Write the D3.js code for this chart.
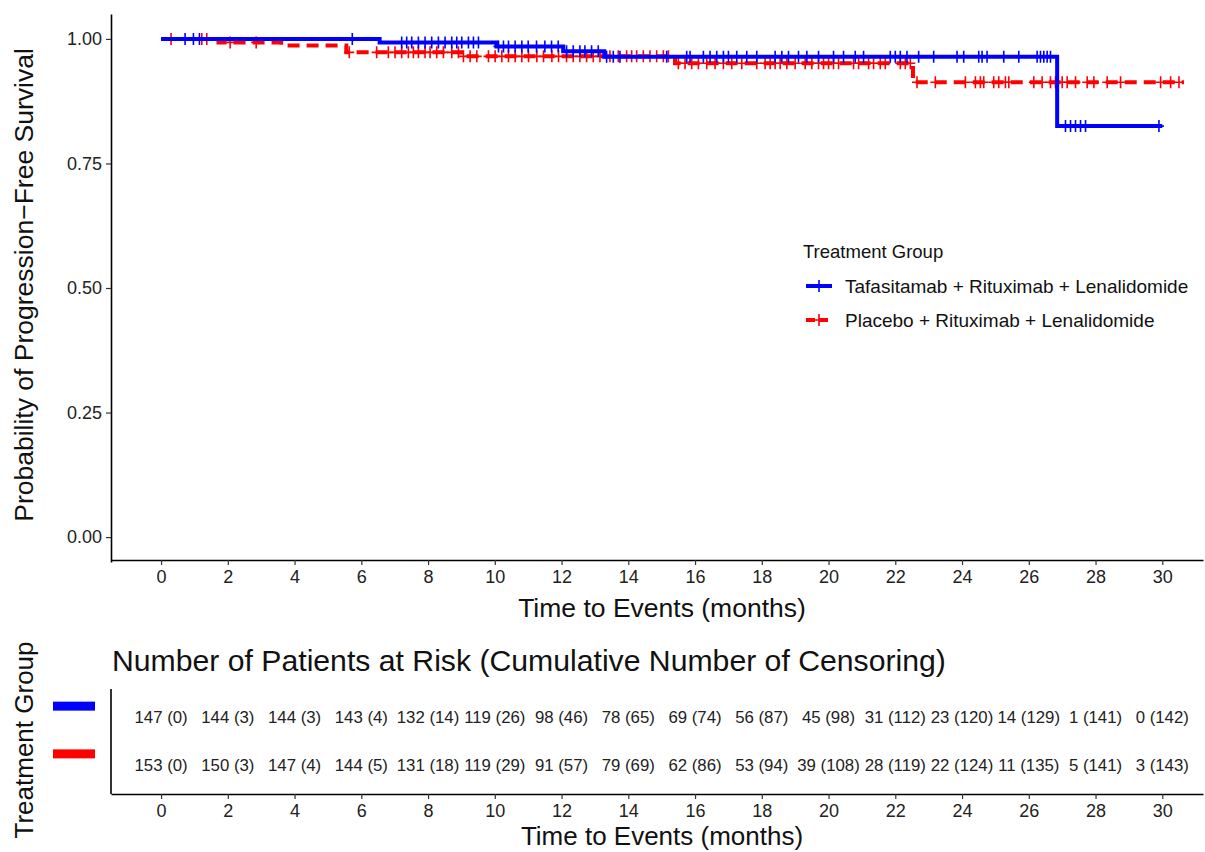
<!DOCTYPE html>
<html>
<head>
<meta charset="utf-8">
<script src="https://cdn.jsdelivr.net/npm/d3@7/dist/d3.min.js"></script>
<style>
  html, body { margin: 0; padding: 0; background: #fff; }
  svg { display: block; font-family: "Liberation Sans", Arial, sans-serif; }
</style>
</head>
<body>
<svg id="chart" width="1205" height="852"></svg>
<script>
// ---- Kaplan-Meier step estimates (time in months, survival after the step) ----
const tafaStepTimes = [0, 6.55, 10.05, 12.05, 13.28, 26.85];
const tafaSurvival  = [1.0, 0.993, 0.985, 0.975, 0.964, 0.825];
const tafaLastTime  = 30.0;
const tafaCensorTimes = [
  0.72, 0.97, 1.15, 5.73,
  7.21, 7.36, 7.51, 7.71, 7.91, 8.11, 8.31, 8.51, 8.71, 8.86, 9.01, 9.21, 9.36, 9.51,
  10.11, 10.26, 10.41, 10.61, 10.81, 11.0, 11.25, 11.5, 11.7, 11.9,
  12.15, 12.35, 12.55, 12.7, 12.9, 13.1, 13.35, 13.55, 13.75,
  15.15, 15.75, 15.85, 16.25, 16.45, 16.65, 16.85, 17.0, 17.25, 17.55, 17.85,
  18.4, 18.6, 18.8, 19.1, 19.35, 19.7, 20.15, 20.45, 20.8, 21.05,
  21.85, 22.0, 22.15, 22.35, 22.7, 23.15, 23.85, 24.05, 24.5, 24.6, 24.75,
  25.25, 25.7, 26.25, 26.35, 26.45, 26.55, 26.65,
  27.1, 27.25, 27.4, 27.55, 27.7, 29.9
];

const pboStepTimes = [0, 1.72, 3.6, 5.55, 9.0, 15.4, 22.53];
const pboSurvival  = [1.0, 0.993, 0.987, 0.973, 0.965, 0.951, 0.913];
const pboLastTime  = 30.65;
const pboCensorTimes = [
  0.3, 1.22, 1.37, 2.07, 2.85, 5.64,
  6.46, 6.81, 7.01, 7.21, 7.41, 7.56, 7.71, 7.91, 8.06, 8.26, 8.46, 8.71, 8.91,
  9.06, 9.26, 9.46, 9.81, 10.01, 10.21, 10.41, 10.61, 10.81, 11.01, 11.26, 11.46, 11.71, 11.91,
  12.15, 12.35, 12.55, 12.75, 12.95, 13.15, 13.45, 13.7, 13.95, 14.1, 14.25, 14.45, 14.65, 14.85,
  15.05, 15.2, 15.5, 15.7, 15.9, 16.1, 16.35, 16.6, 16.85, 17.1, 17.4, 17.85, 18.1,
  18.25, 18.4, 18.55, 18.75, 19.0, 19.3, 19.5, 19.7, 19.85, 20.0, 20.15, 20.3, 20.75, 20.9,
  21.2, 21.35, 21.55, 21.7, 22.15, 22.3, 22.45, 22.65, 23.2, 24.1,
  24.4, 24.55, 24.65, 24.95, 25.1, 25.3, 25.4, 26.15, 26.4, 26.65, 26.8, 27.0, 27.15,
  27.4, 27.75, 27.95, 28.35, 28.75, 29.95, 30.25, 30.5
];

// ---- Risk table ----
const riskTimes   = d3.range(0, 31, 2);
const tafaAtRisk  = [147, 144, 144, 143, 132, 119, 98, 78, 69, 56, 45, 31, 23, 14, 1, 0];
const tafaCensCum = [0, 3, 3, 4, 14, 26, 46, 65, 74, 87, 98, 112, 120, 129, 141, 142];
const pboAtRisk   = [153, 150, 147, 144, 131, 119, 91, 79, 62, 53, 39, 28, 22, 11, 5, 3];
const pboCensCum  = [0, 3, 4, 5, 18, 29, 57, 69, 86, 94, 108, 119, 124, 135, 141, 143];

const groupNames  = ["Tafasitamab + Rituximab + Lenalidomide", "Placebo + Rituximab + Lenalidomide"];
const groupColors = ["#0000FF", "#FF0000"];
const yTicks = [0, 0.25, 0.5, 0.75, 1.0];

const svg = d3.select("#chart");

// ---- Scales ----
const x = d3.scaleLinear().domain([-1.5, 31.22]).range([111, 1203]);
const y = d3.scaleLinear().domain([-0.05, 1.05]).range([562, 14]);

const groups = [
  { name: groupNames[0], color: groupColors[0], times: tafaStepTimes, surv: tafaSurvival, last: tafaLastTime, cens: tafaCensorTimes, dash: null },
  { name: groupNames[1], color: groupColors[1], times: pboStepTimes, surv: pboSurvival, last: pboLastTime, cens: pboCensorTimes, dash: "12,7" }
];

function survAt(g, t) {
  let s = g.surv[0];
  for (let i = 0; i < g.times.length; i++) if (g.times[i] <= t) s = g.surv[i];
  return s;
}

// ---- Axes of the survival panel ----
const xAxis = d3.axisBottom(x).tickValues(riskTimes).tickSize(5).tickSizeOuter(0).tickPadding(5);
const yAxis = d3.axisLeft(y).tickValues(yTicks).tickFormat(d3.format(".2f")).tickSize(5).tickSizeOuter(0).tickPadding(4);

function styleAxis(sel) {
  sel.select(".domain").attr("stroke", "#000").attr("stroke-width", 1.6);
  sel.selectAll(".tick line").attr("stroke", "#333").attr("stroke-width", 1.2);
  sel.selectAll(".tick text").attr("fill", "#222").style("font-size", "18px")
    .style("font-family", "'Liberation Sans', Arial, sans-serif");
}

svg.append("g").attr("transform", "translate(0,560)").call(xAxis).call(styleAxis);
svg.append("g").attr("transform", "translate(111,0)").call(yAxis).call(styleAxis);

svg.append("text").attr("x", 662).attr("y", 617).attr("text-anchor", "middle")
  .style("font-size", "26.5px").attr("fill", "#111").text("Time to Events (months)");
svg.append("text").attr("transform", "translate(33,285) rotate(-90)").attr("text-anchor", "middle")
  .style("font-size", "26.5px").attr("fill", "#111").text("Probability of Progression\u2212Free Survival");

// ---- Survival curves ----
const line = d3.line().x(d => x(d[0])).y(d => y(d[1])).curve(d3.curveStepAfter);

groups.slice().reverse().forEach(g => {
  const pts = g.times.map((t, i) => [t, g.surv[i]]);
  pts.push([g.last, g.surv[g.surv.length - 1]]);
  const path = svg.append("path").datum(pts).attr("d", line)
    .attr("fill", "none").attr("stroke", g.color).attr("stroke-width", 4);
  if (g.dash) path.attr("stroke-dasharray", g.dash);

  // censoring marks
  svg.append("g").selectAll("path").data(g.cens).join("path")
    .attr("d", t => {
      const cx = x(t), cy = y(survAt(g, t));
      return `M${cx},${cy - 6}V${cy + 6}M${cx - 5},${cy}H${cx + 5}`;
    })
    .attr("stroke", g.color).attr("stroke-width", 1.6).attr("fill", "none");
});

// ---- Legend ----
const legend = svg.append("g");
legend.append("text").attr("x", 803).attr("y", 258).style("font-size", "18.5px").attr("fill", "#111").text("Treatment Group");
groups.forEach((g, i) => {
  const ly = 286 + i * 34;
  const key = legend.append("line").attr("x1", 806).attr("x2", 832).attr("y1", ly).attr("y2", ly)
    .attr("stroke", g.color).attr("stroke-width", 4);
  if (g.dash) key.attr("stroke-dasharray", "9,4");
  legend.append("path").attr("d", `M819,${ly - 6}V${ly + 6}M814,${ly}H824`)
    .attr("stroke", g.color).attr("stroke-width", 1.6);
  legend.append("text").attr("x", 845).attr("y", ly + 6.5).style("font-size", "19px").attr("fill", "#111").text(g.name);
});

// ---- Risk table ----
const riskRows = [
  { at: tafaAtRisk, cens: tafaCensCum, color: groupColors[0] },
  { at: pboAtRisk, cens: pboCensCum, color: groupColors[1] }
];
const ry = d3.scaleLinear().domain([0.4, 2.6]).range([794, 689]); // row 2 (top) = first group

svg.append("text").attr("x", 112).attr("y", 671).style("font-size", "30.2px").attr("fill", "#111")
  .text("Number of Patients at Risk (Cumulative Number of Censoring)");

svg.append("g").attr("transform", "translate(0,794)").call(xAxis).call(styleAxis);
svg.append("line").attr("x1", 111).attr("x2", 111).attr("y1", 689).attr("y2", 794)
  .attr("stroke", "#000").attr("stroke-width", 1.6);

riskRows.forEach((r, i) => {
  const rowY = ry(2 - i);
  svg.append("g").selectAll("text").data(riskTimes).join("text")
    .attr("x", t => x(t)).attr("y", rowY + 5.5).attr("text-anchor", "middle")
    .style("font-size", "16.8px").attr("fill", "#222")
    .text((t, k) => `${r.at[k]} (${r.cens[k]})`);
  svg.append("rect").attr("x", 53).attr("y", rowY - 16).attr("width", 42).attr("height", 9).attr("fill", r.color);
});

svg.append("text").attr("x", 662).attr("y", 845).attr("text-anchor", "middle")
  .style("font-size", "26px").attr("fill", "#111").text("Time to Events (months)");
svg.append("text").attr("transform", "translate(33,740) rotate(-90)").attr("text-anchor", "middle")
  .style("font-size", "26px").attr("fill", "#111").text("Treatment Group");
</script>
</body>
</html>
